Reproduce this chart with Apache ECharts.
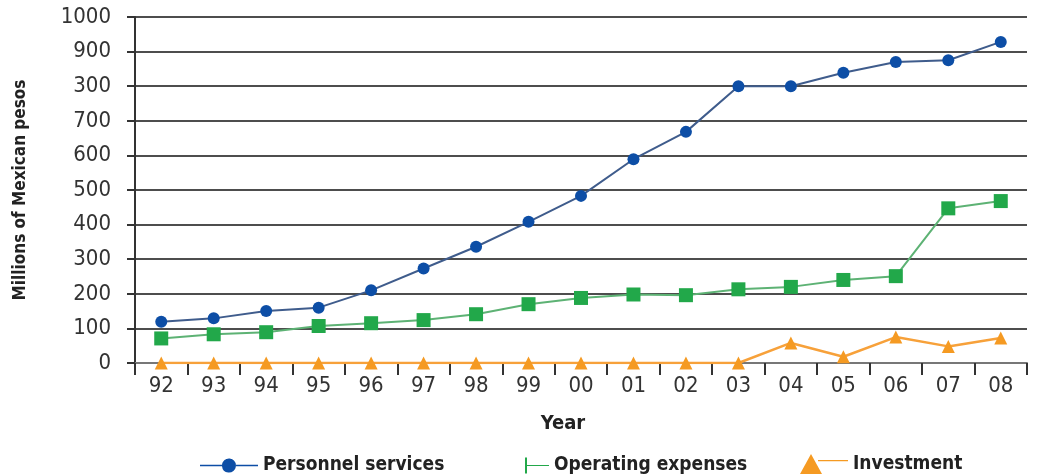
<!DOCTYPE html>
<html><head><meta charset="utf-8">
<script src="https://cdn.jsdelivr.net/npm/echarts@6/dist/echarts.min.js"></script>
<style>html,body{margin:0;padding:0;background:#fff}#c{width:1040px;height:475px}</style>
</head><body><div id="c"></div>
<script>
const years = ['92','93','94','95','96','97','98','99','00','01','02','03','04','05','06','07','08'];
const personnel = [119,129,150,160,210,273,336,408,483,589,668,800,800,839,870,875,928];
const operating = [71,83,89,107,115,124,141,170,188,198,196,213,220,240,251,447,468];
const investment = [0,0,0,0,0,0,0,0,0,0,0,0,58,18,75,48,72];
const yTickValues = [0,100,200,300,400,500,600,700,800,900,1000];
const yTickLabels = ['0','100','200','300','400','500','600','700','300','900','1000'];
const seriesNames = ['Personnel services','Operating expenses','Investment'];
const F = "'Liberation Sans Narrow','DejaVu Sans Condensed',sans-serif";

const chart = echarts.init(document.getElementById('c'));
const legendText = {fontFamily: F, fontWeight: 'bold', fontSize: 19, color: '#222'};
chart.setOption({
  animation: false,
  grid: {left: 135, right: 13, top: 17, bottom: 112, containLabel: false, outerBoundsMode: 'none'},
  xAxis: {
    type: 'category', data: years, boundaryGap: true,
    name: 'Year', nameLocation: 'middle', nameGap: 51,
    nameTextStyle: {fontFamily: F, fontWeight: 'bold', fontSize: 20, color: '#222', padding: [0, 36, 0, 0]},
    axisLine: {lineStyle: {color: '#777', width: 2}},
    axisTick: {show: true, length: 12, lineStyle: {color: '#333', width: 2}},
    axisLabel: {fontFamily: F, fontSize: 22, color: '#333', margin: 12}
  },
  yAxis: {
    type: 'value', min: 0, max: 1000, interval: 100,
    name: 'Millions of Mexican pesos', nameLocation: 'middle', nameGap: 106,
    nameTextStyle: {fontFamily: F, fontWeight: 'bold', fontSize: 17, color: '#222'},
    axisLine: {show: true, lineStyle: {color: '#333', width: 2}},
    axisTick: {show: true, length: 8, lineStyle: {color: '#333', width: 2}},
    axisLabel: {fontFamily: F, fontSize: 22, color: '#333', margin: 24,
      formatter: v => { const i = yTickValues.indexOf(v); return i >= 0 ? yTickLabels[i] : ''; }},
    splitLine: {show: true, lineStyle: {color: '#4d4d4d', width: 2}}
  },
  legend: [
    {left: 195, top: 451, itemWidth: 58, itemHeight: 16, itemGap: 0, textStyle: legendText,
     data: [{name: seriesNames[0], icon: 'path://M0,7.3 L22,7.3 A7,7 0 1 1 22,8.7 L0,8.7 Z M36,7.3 L58,7.3 L58,8.7 L36,8.7 Z M29,1 A7,7 0 1 1 28.99,1 Z'}]},
    {left: 520, top: 451, itemWidth: 24, itemHeight: 16, itemGap: 0, textStyle: legendText,
     data: [{name: seriesNames[1], icon: 'path://M0,0 L2,0 L2,16 L0,16 Z M2,7.5 L24,7.5 L24,8.5 L2,8.5 Z'}]},
    {left: 795, top: 449, itemWidth: 48, itemHeight: 22, itemGap: 0, textStyle: legendText,
     data: [{name: seriesNames[2], icon: 'path://M0,22 L11,2 L22,22 Z M18,8 L48,8 L48,9.2 L18,9.2 Z'}]}
  ],
  series: [
    {name: seriesNames[0], type: 'line', data: personnel, symbol: 'circle', symbolSize: 12,
     lineStyle: {color: '#3f5c8c', width: 2}, itemStyle: {color: '#0d4ea6'}, z: 4},
    {name: seriesNames[1], type: 'line', data: operating, symbol: 'rect', symbolSize: 14,
     lineStyle: {color: '#5db274', width: 2}, itemStyle: {color: '#22a84a'}, z: 3},
    {name: seriesNames[2], type: 'line', data: investment, symbol: 'triangle', symbolSize: 13,
     lineStyle: {color: '#f7a13a', width: 2.5}, itemStyle: {color: '#f59a22'}, z: 2}
  ]
});
</script></body></html>
